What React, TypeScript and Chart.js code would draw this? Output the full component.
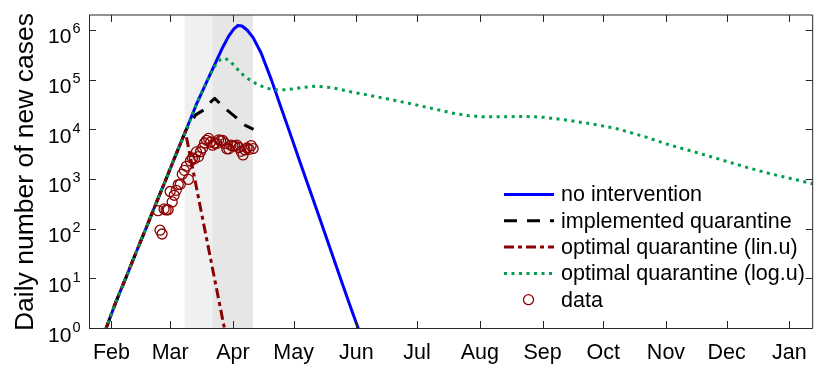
import { useEffect, useRef } from 'react';
import { Chart, registerables } from 'chart.js';

Chart.register(...registerables);

const FONT = '"Liberation Sans", Arial, Helvetica, sans-serif';

// x axis: days since 1 Jan 2020
const xMin = 19.9;
const xMax = 377.5;
const yMin = 1;
const yMax = 2e6;

const monthTickDays = [31, 60, 91, 121, 152, 182, 213, 244, 274, 305, 335, 366];
const monthLabels = ['Feb', 'Mar', 'Apr', 'May', 'Jun', 'Jul', 'Aug', 'Sep', 'Oct', 'Nov', 'Dec', 'Jan'];
const yTickValues = [1, 10, 100, 1000, 10000, 100000, 1000000];
const yTickExponents = ['0', '1', '2', '3', '4', '5', '6'];
const yAxisTitle = 'Daily number of new cases';

const shadeLightRange = [67.2, 100.8];
const shadeDarkRange = [81, 100.8];

const noInterventionDays = [28, 33, 38, 43, 48, 53, 58, 63, 68, 73, 78, 82, 86, 89, 91.5, 93.5, 95.5, 98, 101, 105, 110, 115, 120, 125, 130, 135, 140, 145, 150, 153.5];
const noInterventionCases = [0.9, 3.2, 10, 32, 100, 320, 1000, 3200, 10000, 32000, 89000, 200000, 450000, 760000, 1050000, 1230000, 1200000, 1000000, 700000, 340000, 100000, 26000, 6800, 1750, 460, 120, 31, 8, 2.1, 0.85];

const implementedDays = [28, 33, 38, 43, 48, 53, 58, 63, 68, 72.6, 76.6, 80.5, 82, 86.4, 92.2, 97.1, 101.2];
const implementedCases = [0.9, 3.2, 10, 32, 100, 320, 1000, 3200, 10000, 19500, 24500, 37000, 42000, 28000, 17800, 12000, 10000];

const linUDays = [28, 33, 38, 43, 48, 53, 58, 63, 67.5, 87];
const linUCases = [0.9, 3.2, 10, 32, 100, 320, 1000, 3200, 9000, 0.9];

const logUDays = [28, 33, 38, 43, 48, 53, 58, 63, 68, 73, 78, 81, 83, 85, 87, 89, 92, 95, 98, 102, 107, 112, 118, 125, 132, 140, 150, 160, 170, 180, 190, 200, 207, 214, 225, 235, 245, 255, 268, 280, 294, 305, 318, 330, 343, 357, 370, 378];
const logUCases = [0.9, 3.2, 10, 32, 100, 320, 1000, 3200, 10000, 32000, 89000, 160000, 215000, 257000, 270000, 245000, 186000, 135000, 107000, 85000, 68000, 62000, 63000, 69000, 74000, 69000, 56000, 47000, 39000, 32000, 26000, 21000, 19000, 17800, 17800, 18200, 17400, 15500, 12900, 10500, 7200, 5100, 3600, 2600, 1800, 1260, 950, 790];

const dataDays = [54, 55, 56, 57, 58, 59, 60, 61, 62, 63, 64, 65, 66, 67, 68, 69, 70, 71, 72, 73, 74, 75, 76, 77, 78, 79, 80, 81, 82, 83, 84, 85, 86, 87, 88, 89, 90, 91, 92, 93, 94, 95, 96, 97, 98, 99, 100, 101];
const dataCases = [230, 93, 78, 250, 238, 240, 560, 345, 470, 590, 770, 780, 1250, 1490, 1800, 980, 2300, 2650, 2550, 3500, 2820, 3530, 4200, 5300, 6000, 6550, 5550, 4800, 5250, 5200, 6150, 5950, 5970, 5200, 4050, 4050, 4800, 4650, 4600, 4800, 4300, 3600, 3050, 3850, 4200, 3950, 4700, 4100];

const toPoints = (xs: number[], ys: number[]) => xs.map((x, i) => ({ x, y: ys[i] }));

const axesPlugin = {
  id: 'matlabAxes',
  beforeDatasetsDraw(chart: any) {
    const { ctx, chartArea: a, scales } = chart;
    const x = scales.x;
    ctx.save();
    const l1 = x.getPixelForValue(shadeLightRange[0]);
    const r1 = x.getPixelForValue(shadeLightRange[1]);
    ctx.fillStyle = '#f0f0f0';
    ctx.fillRect(l1, a.top, r1 - l1, a.bottom - a.top);
    const l2 = x.getPixelForValue(shadeDarkRange[0]);
    const r2 = x.getPixelForValue(shadeDarkRange[1]);
    ctx.fillStyle = '#e6e6e6';
    ctx.fillRect(l2, a.top, r2 - l2, a.bottom - a.top);
    ctx.restore();
  },
  afterDraw(chart: any) {
    const { ctx, chartArea: a, scales } = chart;
    const x = scales.x;
    const y = scales.y;
    ctx.save();
    // box
    ctx.lineWidth = 1;
    ctx.strokeStyle = '#262626';
    ctx.beginPath();
    ctx.moveTo(a.left + 0.5, a.top);
    ctx.lineTo(a.left + 0.5, a.bottom + 0.5);
    ctx.lineTo(a.right, a.bottom + 0.5);
    ctx.stroke();
    ctx.strokeStyle = '#262626';
    ctx.beginPath();
    ctx.moveTo(a.left, a.top);
    ctx.lineTo(a.right, a.top);
    ctx.lineTo(a.right, a.bottom);
    ctx.stroke();
    // ticks
    const tl = 7;
    ctx.beginPath();
    monthTickDays.forEach((d) => {
      const px = Math.round(x.getPixelForValue(d)) + 0.5;
      ctx.moveTo(px, a.bottom);
      ctx.lineTo(px, a.bottom - tl);
      ctx.moveTo(px, a.top);
      ctx.lineTo(px, a.top + tl);
    });
    yTickValues.forEach((v) => {
      const py = Math.round(y.getPixelForValue(v)) + 0.5;
      ctx.moveTo(a.left, py);
      ctx.lineTo(a.left + tl, py);
      ctx.moveTo(a.right, py);
      ctx.lineTo(a.right - tl, py);
    });
    ctx.stroke();
    // x labels
    ctx.fillStyle = '#000000';
    ctx.font = `21.5px ${FONT}`;
    ctx.textAlign = 'center';
    ctx.textBaseline = 'alphabetic';
    monthTickDays.forEach((d, i) => {
      ctx.fillText(monthLabels[i], x.getPixelForValue(d), 359);
    });
    // y labels with superscripts
    yTickValues.forEach((v, i) => {
      const py = y.getPixelForValue(v);
      ctx.font = `14.5px ${FONT}`;
      const ew = ctx.measureText(yTickExponents[i]).width;
      ctx.textAlign = 'right';
      ctx.fillText(yTickExponents[i], 80.5, py + 3.5);
      ctx.font = `21px ${FONT}`;
      ctx.fillText('10', 80.5 - ew - 1, py + 13.5);
    });
    // y title
    ctx.save();
    ctx.translate(33, 172);
    ctx.rotate(-Math.PI / 2);
    ctx.font = `26.5px ${FONT}`;
    ctx.textAlign = 'center';
    ctx.textBaseline = 'alphabetic';
    ctx.fillText(yAxisTitle, 0, 0);
    ctx.restore();
    // legend
    const lx0 = 504;
    const lx1 = 554;
    const tx = 561;
    const rowY0 = 194.5;
    const rowH = 26.3;
    const order = [0, 1, 2, 3, 4];
    order.forEach((di, r) => {
      const ds = chart.data.datasets[di];
      const ry = rowY0 + r * rowH;
      if (ds.showLine === false) {
        ctx.beginPath();
        ctx.lineWidth = ds.pointBorderWidth;
        ctx.strokeStyle = ds.pointBorderColor;
        ctx.setLineDash([]);
        ctx.arc((lx0 + lx1) / 2 - 0.5, ry, ds.pointRadius, 0, Math.PI * 2);
        ctx.stroke();
      } else {
        ctx.beginPath();
        ctx.lineWidth = ds.borderWidth;
        ctx.strokeStyle = ds.borderColor;
        ctx.lineCap = 'butt';
        ctx.setLineDash(ds.borderDash || []);
        ctx.moveTo(lx0, ry);
        ctx.lineTo(lx1, ry);
        ctx.stroke();
      }
      ctx.setLineDash([]);
      ctx.fillStyle = '#000000';
      ctx.font = `21.5px ${FONT}`;
      ctx.textAlign = 'left';
      ctx.textBaseline = 'middle';
      ctx.fillText(ds.label, tx, ry + 1);
    });
    ctx.restore();
  },
};

export default function App() {
  const ref = useRef<HTMLCanvasElement>(null);
  useEffect(() => {
    document.body.style.margin = '0';
    const canvas = ref.current;
    if (!canvas) return;
    const lineCommon = {
      pointRadius: 0,
      borderWidth: 3,
      fill: false,
      tension: 0,
      borderCapStyle: 'butt',
      borderJoinStyle: 'round',
      clip: 0,
    };
    const chart = new Chart(canvas, {
      type: 'line',
      data: {
        datasets: [
          { ...lineCommon, label: 'no intervention', data: toPoints(noInterventionDays, noInterventionCases), borderColor: '#0000ff', borderDash: [], order: 4 },
          { ...lineCommon, label: 'implemented quarantine', data: toPoints(implementedDays, implementedCases), borderColor: '#000000', borderDash: [13, 10], order: 3 },
          { ...lineCommon, label: 'optimal quarantine (lin.u)', data: toPoints(linUDays, linUCases), borderColor: '#8b0000', borderDash: [10, 4, 4, 4], order: 2 },
          { ...lineCommon, label: 'optimal quarantine (log.u)', data: toPoints(logUDays, logUCases), borderColor: '#009e4f', borderDash: [3, 4.5], order: 1 },
          {
            label: 'data',
            data: toPoints(dataDays, dataCases),
            showLine: false,
            pointRadius: 5,
            pointBorderWidth: 1.3,
            pointBorderColor: '#8b0000',
            pointBackgroundColor: 'rgba(0,0,0,0)',
            borderColor: '#8b0000',
            order: 0,
          },
        ],
      } as any,
      options: {
        responsive: false,
        animation: false,
        layout: { padding: { left: 89, top: 15, right: 1, bottom: 38 } },
        scales: {
          x: { type: 'linear', min: xMin, max: xMax, display: false },
          y: { type: 'logarithmic', min: yMin, max: yMax, display: false },
        },
        plugins: { legend: { display: false }, tooltip: { enabled: false } },
      } as any,
      plugins: [axesPlugin],
    });
    return () => chart.destroy();
  }, []);
  return (
    <canvas ref={ref} width={819} height={366} style={{ display: 'block', width: 819, height: 366 }} />
  );
}
